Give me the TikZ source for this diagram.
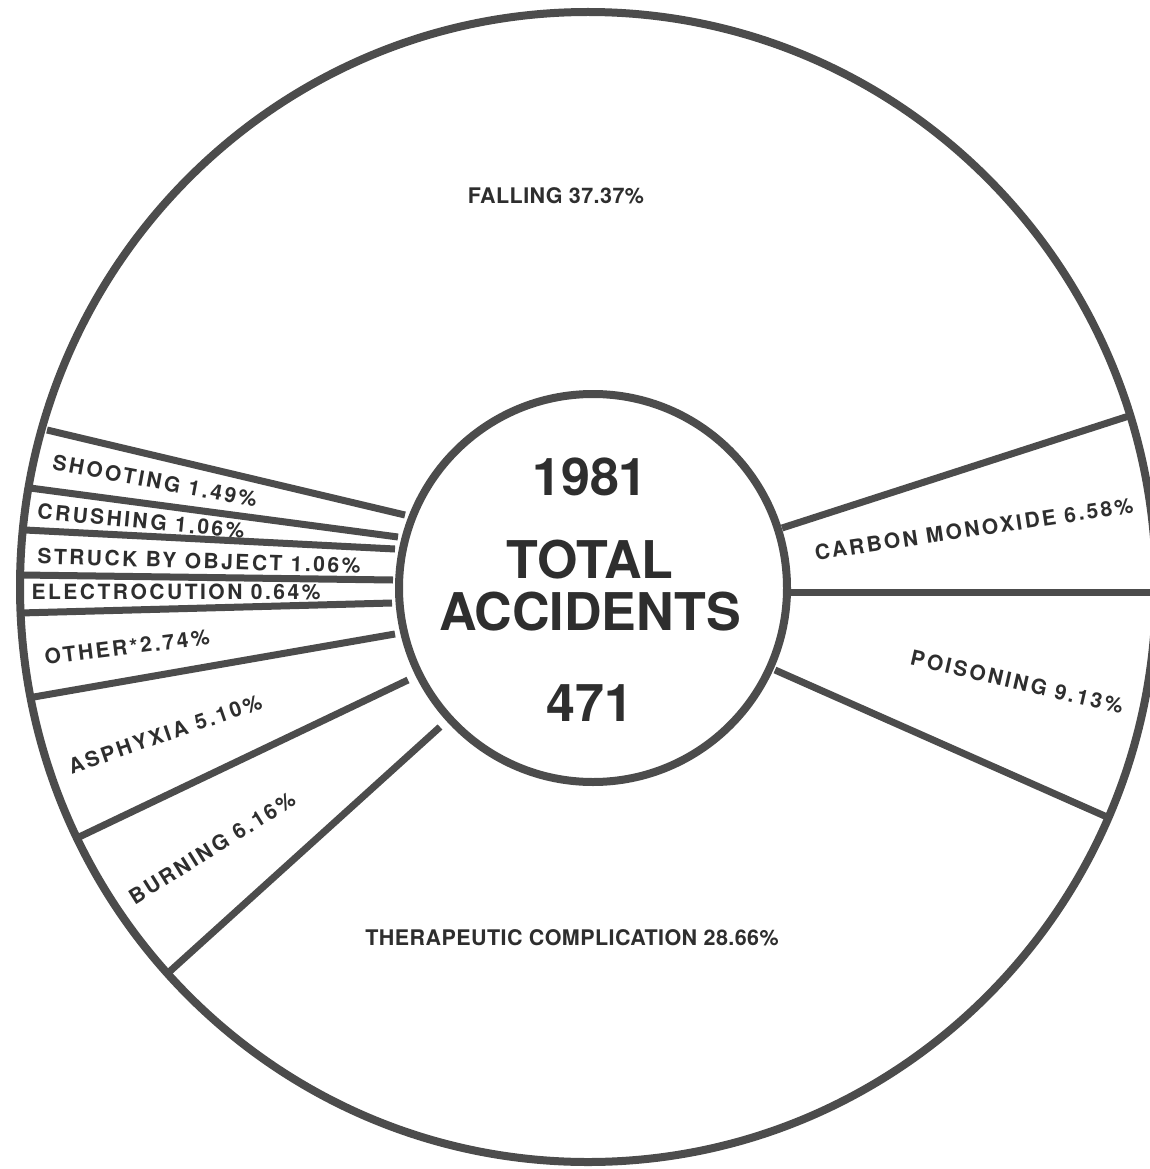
\documentclass[tikz,border=0pt]{standalone}
\usepackage{fontspec}
\setmainfont{TeX Gyre Heros}
\newfontfamily\labfont[LetterSpace=12]{TeX Gyre Heros}
\newfontfamily\horfont[LetterSpace=2]{TeX Gyre Heros}
\definecolor{ink}{gray}{0.30}
\definecolor{txt}{gray}{0.18}
\begin{document}
\begin{tikzpicture}[x=1pt,y=-1pt,
  divider/.style={draw=ink,line width=7pt},
  rim/.style={draw=ink,line width=8pt},
  lab/.style={text=txt,inner sep=0pt,font=\labfont\bfseries\fontsize{21}{24}\selectfont},
  hlab/.style={text=txt,inner sep=0pt,font=\horfont\bfseries\fontsize{21.5}{24}\selectfont},
  big/.style={text=txt,inner sep=0pt,font=\bfseries\fontsize{52}{56}\selectfont}]
\useasboundingbox (0,0) rectangle (1150,1169);
\clip (0,0) rectangle (1150,1169);
\fill[white] (0,0) rectangle (1150,1169);
% end points of the dividing lines
\coordinate (o1) at (47,430);   \coordinate (i1) at (405,515);
\coordinate (o2) at (30,488);   \coordinate (i2) at (398,537);
\coordinate (o3) at (25,530);   \coordinate (i3) at (395,549);
\coordinate (o4) at (22,575);   \coordinate (i4) at (393,580);
\coordinate (o5) at (20,613);   \coordinate (i5) at (392,603);
\coordinate (o6) at (28,698);   \coordinate (i6) at (395,634);
\coordinate (o7) at (77,838);   \coordinate (i7) at (408,680);
\coordinate (o8) at (168,973);  \coordinate (i8) at (440,727);
\coordinate (o9) at (1132,415); \coordinate (i9) at (782,528);
\coordinate (o10) at (1160,592); \coordinate (i10) at (790,592);
\coordinate (o11) at (1107,817); \coordinate (i11) at (775,670);
\foreach \k in {1,...,11} {\draw[divider] (o\k) -- (i\k);}
\draw[rim] (588,587) ellipse [x radius=568pt, y radius=575pt];
\node[circle,rim,fill=white,minimum size=388pt,inner sep=0pt] (hub) at (593,588) {};
% centre text
\node[big] (year) at (590,477) {1981};
\node[big] (total) at (590,560) {TOTAL};
\node[big] (acc) at (590,612) {ACCIDENTS};
\node[big] (num) at (590,703) {471};
% segment labels
\node[hlab] (falling) at (556,196) {FALLING 37.37\%};
\node[hlab] (thera) at (572,938) {THERAPEUTIC COMPLICATION 28.66\%};
\node[lab,rotate=8.5] (carbon) at (974,529) {CARBON MONOXIDE 6.58\%};
\node[lab,rotate=-13] (poison) at (1017,682) {POISONING 9.13\%};
\node[lab,rotate=32] (burn) at (212,848) {BURNING 6.16\%};
\node[lab,rotate=19] (asph) at (165,734) {ASPHYXIA 5.10\%};
\node[lab,rotate=7] (other) at (127,647) {OTHER*2.74\%};
\node[lab] (electro) at (176,592) {ELECTROCUTION 0.64\%};
\node[lab,rotate=-1.7] (struck) at (199,561) {STRUCK BY OBJECT 1.06\%};
\node[lab,rotate=-5.4] (crush) at (141,521) {CRUSHING 1.06\%};
\node[lab,rotate=-10.5] (shoot) at (155,481) {SHOOTING 1.49\%};
\end{tikzpicture}
\end{document}
